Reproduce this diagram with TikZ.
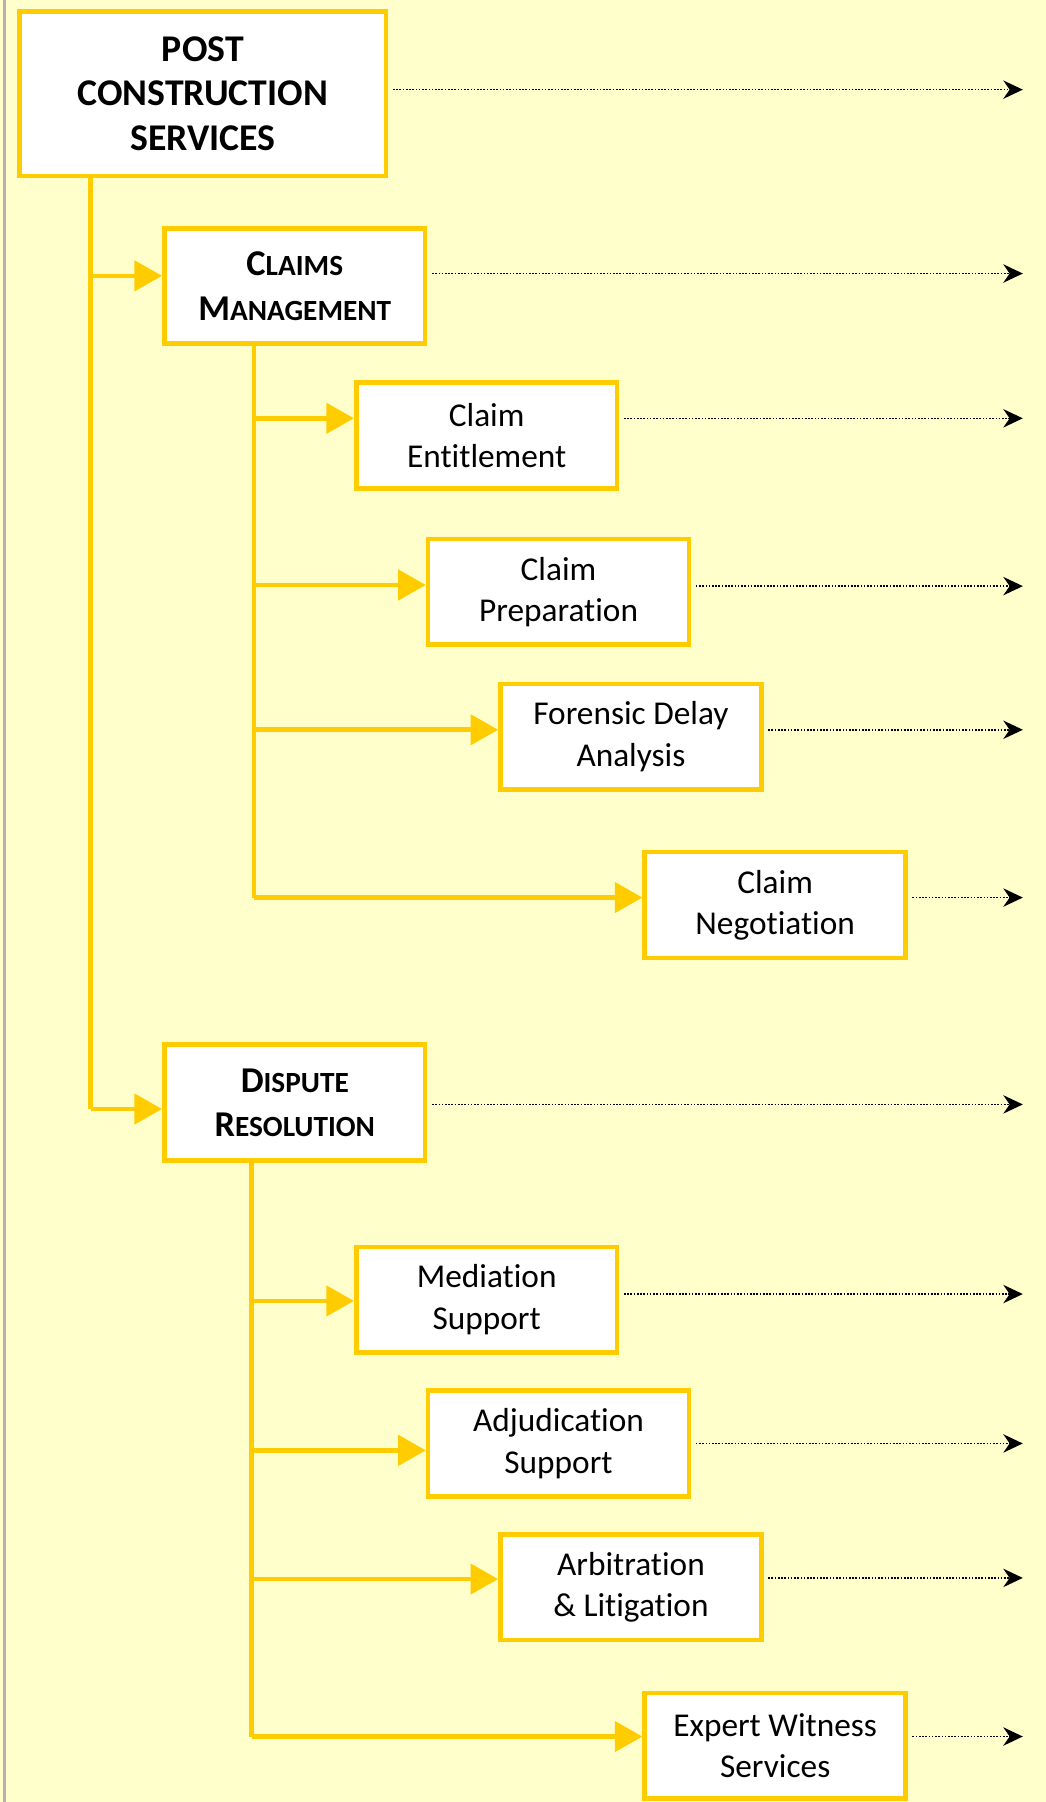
\documentclass[tikz,border=0pt]{standalone}
\usepackage{fontspec}
\setmainfont{Carlito}[Ligatures=NoCommon]
\usepackage{xcolor}
\usetikzlibrary{arrows.meta}
\definecolor{boxyellow}{HTML}{FFCC00}
\definecolor{paleyellow}{HTML}{FFFFCC}
\newcommand{\capsword}[2]{{\fontsize{18}{22}\selectfont #1}{\fontsize{14.5}{22}\selectfont #2}}

\begin{document}
\begin{tikzpicture}
    [x=0.02cm,y=-0.02cm,
     every node/.style={draw=boxyellow,line width=0.08cm,fill=white,align=center,
        minimum width=4.54cm,minimum height=1.84cm,inner sep=0pt,
        font=\fontsize{16.5}{20.5}\selectfont},
     head/.style={font=\bfseries\fontsize{18.7}{22}\selectfont},
     trunk/.style={draw=boxyellow,line width=0.08cm},
     feed/.style={draw=boxyellow,line width=0.08cm,-{Triangle[length=0.48cm,width=0.52cm]}},
     onward/.style={black,line width=0.8pt,dash pattern=on 0.8pt off 0.8pt,
        shorten <=0.08cm,-{Stealth[length=0.34cm,width=0.32cm]}}]
    \useasboundingbox (0,0) rectangle (910,1568);
    \fill[paleyellow] (0,0) rectangle (910,1568);
    \draw[gray!60,line width=0.04cm] (4,0) -- (4,1568);

    % top
    \node[head,minimum width=6.38cm,minimum height=2.86cm] (n0) at (176.5,81.5) {POST\\CONSTRUCTION\\SERVICES};

    % claims
    \node[head,minimum height=2.0cm] (n1) at (256.5,249) {\capsword{C}{LAIMS}\\\capsword{M}{ANAGEMENT}};
    \node (n1-0) at (423.5,379) {Claim\\Entitlement};
    \node (n1-1) at (486,515) {Claim\\Preparation};
    \node (n1-2) at (549,641) {Forensic Delay\\Analysis};
    \node (n1-3) at (674.5,787.5) {Claim\\Negotiation};

    % disputes
    \node[head,minimum height=2.02cm] (n2) at (256.5,959.5) {\capsword{D}{ISPUTE}\\\capsword{R}{ESOLUTION}};
    \node (n2-0) at (423.5,1131) {Mediation\\Support};
    \node (n2-1) at (486,1256) {Adjudication\\Support};
    \node (n2-2) at (549,1381) {Arbitration\\\& Litigation};
    \node (n2-3) at (674.5,1519) {Expert Witness\\Services};

    \coordinate (t0) at (79,965);
    \coordinate (t1) at (221,781);
    \coordinate (t2) at (219,1511);
    \draw[trunk] (n0.south -| t0) -- (t0);
    \draw[trunk] (n1.south -| t1) -- (t1);
    \draw[trunk] (n2.south -| t2) -- (t2);

    \foreach \n/\x/\y in {n1/79/240, n2/79/965,
                          n1-0/221/364, n1-1/221/509, n1-2/221/635, n1-3/221/781,
                          n2-0/219/1132, n2-1/219/1262, n2-2/219/1374, n2-3/219/1511}
    {
        \coordinate (j-\n) at (\x,\y);
        \draw[feed] (j-\n) -- (j-\n -| \n.west);
    }

    \foreach \n/\y in {n0/78, n1/238, n1-0/364, n1-1/510, n1-2/635, n1-3/781,
                       n2/961, n2-0/1126, n2-1/1256, n2-2/1373, n2-3/1511}
    {
        \coordinate (e-\n) at (890,\y);
        \draw[onward] (e-\n -| \n.east) -- (e-\n);
    }
\end{tikzpicture}
\end{document}
